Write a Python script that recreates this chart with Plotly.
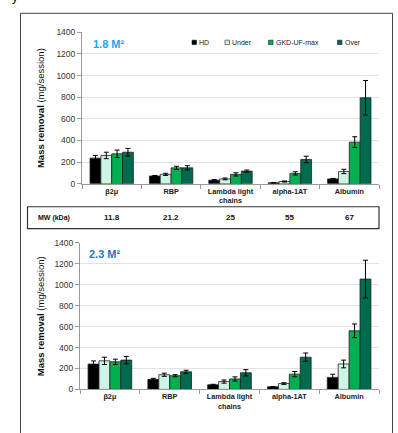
import plotly.graph_objects as go

W, H = 398, 433

categories = ["β2μ", "RBP", "Lambda light<br>chains", "alpha-1AT", "Albumin"]
series_names = ["HD", "Under", "GKD-UF-max", "Over"]
colors = ["#000000", "#cdf5e6", "#00b050", "#006a4e"]

# 1.8 m2 panel
top_hd = [237, 72, 33, 9, 45]
top_under = [262, 87, 45, 21, 114]
top_gkd = [277, 147, 87, 96, 385]
top_over = [292, 147, 117, 225, 795]
top_hd_err = [25, 5, 5, 3, 5]
top_under_err = [30, 10, 8, 5, 20]
top_gkd_err = [35, 15, 15, 15, 50]
top_over_err = [35, 20, 10, 30, 160]

# 2.3 m2 panel
bot_hd = [242, 96, 44, 25, 115]
bot_under = [273, 140, 75, 56, 243]
bot_gkd = [264, 131, 100, 146, 560]
bot_over = [280, 168, 159, 308, 1054]
bot_hd_err = [30, 10, 5, 3, 30]
bot_under_err = [35, 15, 15, 8, 37]
bot_gkd_err = [25, 10, 20, 25, 65]
bot_over_err = [35, 15, 30, 40, 180]

mw_values = ["11.8", "21.2", "25", "55", "67"]
y_ticks = [0, 200, 400, 600, 800, 1000, 1200, 1400]

FONT = "Arial, Liberation Sans, sans-serif"


def px(x):
    return x / W


def py(y):
    return 1 - y / H


fig = go.Figure()

panels = [
    ("x", "y", [top_hd, top_under, top_gkd, top_over],
     [top_hd_err, top_under_err, top_gkd_err, top_over_err]),
    ("x2", "y2", [bot_hd, bot_under, bot_gkd, bot_over],
     [bot_hd_err, bot_under_err, bot_gkd_err, bot_over_err]),
]
for xa, ya, vals, errs in panels:
    for name, v, e, c in zip(series_names, vals, errs, colors):
        fig.add_trace(go.Bar(
            x=categories, y=v, name=name, xaxis=xa, yaxis=ya,
            marker=dict(color=c, line=dict(color="#222222", width=0.8)),
            error_y=dict(type="data", array=e, visible=True,
                         color="#000000", thickness=1, width=2.5),
            showlegend=False,
        ))

yaxis_common = dict(
    range=[0, 1400], tickvals=y_ticks, showgrid=True, gridcolor="#e2e2e2",
    gridwidth=1, ticks="outside", ticklen=4, tickcolor="#9a9a9a",
    showline=True, linecolor="#9a9a9a", linewidth=1,
    tickfont=dict(family=FONT, size=8.5, color="#333333"),
    zeroline=False, fixedrange=True,
)
xaxis_common = dict(
    showline=True, linecolor="#9a9a9a", linewidth=1,
    ticks="outside", tickson="boundaries", ticklen=4,
    tickcolor="#9a9a9a", type="category",
    tickfont=dict(family=FONT, size=7.3, color="#222222"),
    tickvals=categories,
    ticktext=["<b>" + c + "</b>" for c in categories],
)

fig.update_layout(
    width=W, height=H,
    margin=dict(l=0, r=0, t=0, b=0),
    paper_bgcolor="white", plot_bgcolor="white",
    barmode="group", bargap=0.27, bargroupgap=0,
    font=dict(family=FONT),
    xaxis=dict(xaxis_common, domain=[px(82), px(379)], anchor="y"),
    yaxis=dict(yaxis_common, domain=[py(183), py(28)], anchor="x"),
    xaxis2=dict(xaxis_common, domain=[px(80), px(379)], anchor="y2"),
    yaxis2=dict(yaxis_common, domain=[py(393.5), py(243.5)], anchor="x2"),
)

annotations = []
# y-axis titles
for yc in [(28 + 183) / 2, (243.5 + 393.5) / 2]:
    annotations.append(dict(
        x=px(40), y=py(yc), xref="paper", yref="paper",
        text="<b>Mass removal</b> (mg/session)", textangle=-90,
        showarrow=False, font=dict(family=FONT, size=9.5, color="#111111"),
        xanchor="center", yanchor="middle",
    ))
# panel labels
annotations.append(dict(x=px(91), y=py(40), xref="paper", yref="paper",
                        text="<b>1.8 M²</b>", showarrow=False, xanchor="left",
                        yanchor="middle", font=dict(family=FONT, size=11, color="#1ea6ec")))
annotations.append(dict(x=px(87), y=py(255), xref="paper", yref="paper",
                        text="<b>2.3 M²</b>", showarrow=False, xanchor="left",
                        yanchor="middle", font=dict(family=FONT, size=11, color="#1f78c6")))

# MW row
annotations.append(dict(x=px(36), y=py(218), xref="paper", yref="paper",
                        text="<b>MW (kDa)</b>", showarrow=False, xanchor="left",
                        yanchor="middle", font=dict(family=FONT, size=7, color="#111111")))
for i, mv in enumerate(mw_values):
    annotations.append(dict(x=categories[i], y=py(218), xref="x", yref="paper",
                            text="<b>" + mv + "</b>", showarrow=False,
                            xanchor="center", yanchor="middle",
                            font=dict(family=FONT, size=8, color="#111111")))

shapes = []
# outer frame
shapes.append(dict(type="rect", xref="paper", yref="paper",
                   x0=px(20.5), x1=px(392.5), y0=py(450), y1=py(8.5),
                   line=dict(color="#444444", width=1), fillcolor="rgba(0,0,0,0)"))
# MW box
shapes.append(dict(type="rect", xref="paper", yref="paper",
                   x0=px(27.5), x1=px(379), y0=py(229), y1=py(206.5),
                   line=dict(color="#333333", width=1.2), fillcolor="rgba(0,0,0,0)"))

# custom legend
legend_items = [("HD", 192), ("Under", 225), ("GKD-UF-max", 268.5), ("Over", 337.5)]
for (name, lx), c in zip(legend_items, colors):
    shapes.append(dict(type="rect", xref="paper", yref="paper",
                       x0=px(lx), x1=px(lx + 4.5), y0=py(40.5), y1=py(36),
                       line=dict(color="#222222", width=0.6), fillcolor=c))
    annotations.append(dict(x=px(lx + 5), y=py(38.3), xref="paper", yref="paper",
                            text=name, showarrow=False, xanchor="left",
                            yanchor="middle",
                            font=dict(family=FONT, size=7, color="#222222")))

# clipped caption letter at very top-left (only its descender shows)
annotations.append(dict(x=px(10), y=py(1), xref="paper", yref="paper",
                        text="y", showarrow=False, xanchor="left", yanchor="bottom",
                        font=dict(family=FONT, size=12, color="#000000")))

fig.update_layout(annotations=annotations, shapes=shapes)

fig.write_html("out.html", config={"displayModeBar": False},
               post_script="document.body.style.margin='0';document.body.style.overflow='hidden';")
